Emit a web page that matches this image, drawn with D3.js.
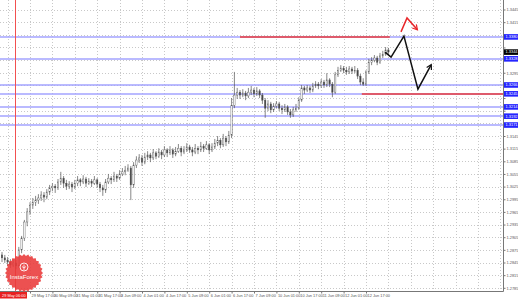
<!DOCTYPE html>
<html lang="en">
<head>
<meta charset="utf-8">
<style>
    body { margin: 0; background: #fff; }
    svg { display: block; font-family: "Liberation Sans", Arial, sans-serif; }
    .grid line { stroke: #c8c8c8; stroke-dasharray: 1,2; }
    .axis path, .axis line { stroke: #777; }
    .axis text { fill: #555; font-size: 3.9px; }
</style>
</head>
<body>
<svg id="chart" width="518" height="300"></svg>

<script src="https://d3js.org/d3.v7.min.js"></script>
<script>
    // EURUSD, 2-hour bars: [open, high, low, close]
    const candles = [
        [1.2863,1.2870,1.2846,1.2856],[1.2856,1.2863,1.2844,1.2851],[1.2851,1.2858,1.2837,1.2846],[1.2846,1.2853,1.2832,1.2839],
        [1.2839,1.2853,1.2834,1.2844],[1.2844,1.2851,1.2829,1.2837],[1.2837,1.2882,1.2832,1.2875],[1.2875,1.2908,1.2867,1.2903],
        [1.2903,1.2946,1.2896,1.2941],[1.2941,1.2974,1.2931,1.2965],[1.2965,1.2988,1.2958,1.2981],[1.2981,1.2998,1.2972,1.2988],
        [1.2988,1.3003,1.2979,1.2993],[1.2993,1.3007,1.2984,1.2998],[1.2998,1.3014,1.2991,1.3005],[1.3005,1.3012,1.2988,1.3000],
        [1.3000,1.3019,1.2995,1.3012],[1.3012,1.3029,1.3005,1.3022],[1.3022,1.3033,1.3014,1.3026],[1.3026,1.3031,1.3010,1.3022],
        [1.3022,1.3043,1.3017,1.3036],[1.3036,1.3060,1.3029,1.3045],[1.3045,1.3050,1.3022,1.3033],[1.3033,1.3041,1.3017,1.3026],
        [1.3026,1.3038,1.3019,1.3031],[1.3031,1.3036,1.3012,1.3024],[1.3024,1.3041,1.3019,1.3033],[1.3033,1.3050,1.3026,1.3041],
        [1.3041,1.3045,1.3026,1.3036],[1.3036,1.3052,1.3031,1.3043],[1.3043,1.3048,1.3024,1.3033],[1.3033,1.3045,1.3029,1.3038],
        [1.3038,1.3043,1.3024,1.3033],[1.3033,1.3050,1.3029,1.3041],[1.3041,1.3045,1.3022,1.3031],[1.3031,1.3036,1.3012,1.3022],
        [1.3022,1.3029,1.3003,1.3017],[1.3017,1.3043,1.3010,1.3036],[1.3036,1.3055,1.3031,1.3045],[1.3045,1.3050,1.3031,1.3041],
        [1.3041,1.3060,1.3036,1.3050],[1.3050,1.3055,1.3036,1.3045],[1.3045,1.3064,1.3041,1.3055],[1.3055,1.3069,1.3050,1.3060],
        [1.3060,1.3074,1.3052,1.3064],[1.3064,1.3078,1.3060,1.3069],[1.3069,1.3074,1.2993,1.3029],[1.3029,1.3083,1.3022,1.3076],
        [1.3076,1.3097,1.3069,1.3088],[1.3088,1.3102,1.3081,1.3093],[1.3093,1.3100,1.3074,1.3083],[1.3083,1.3105,1.3078,1.3095],
        [1.3095,1.3109,1.3088,1.3100],[1.3100,1.3105,1.3083,1.3093],[1.3093,1.3114,1.3088,1.3105],[1.3105,1.3109,1.3090,1.3097],
        [1.3097,1.3116,1.3093,1.3107],[1.3107,1.3112,1.3090,1.3100],[1.3100,1.3121,1.3095,1.3112],[1.3112,1.3116,1.3095,1.3105],
        [1.3105,1.3121,1.3100,1.3112],[1.3112,1.3116,1.3093,1.3102],[1.3102,1.3119,1.3097,1.3109],[1.3109,1.3126,1.3105,1.3116],
        [1.3116,1.3121,1.3097,1.3107],[1.3107,1.3121,1.3102,1.3112],[1.3112,1.3128,1.3107,1.3119],[1.3119,1.3124,1.3105,1.3112],
        [1.3112,1.3119,1.3097,1.3107],[1.3107,1.3126,1.3102,1.3116],[1.3116,1.3121,1.3102,1.3112],[1.3112,1.3131,1.3107,1.3121],
        [1.3121,1.3126,1.3107,1.3116],[1.3116,1.3133,1.3112,1.3124],[1.3124,1.3128,1.3102,1.3112],[1.3112,1.3128,1.3107,1.3119],
        [1.3119,1.3138,1.3114,1.3128],[1.3128,1.3145,1.3121,1.3135],[1.3135,1.3140,1.3116,1.3124],[1.3124,1.3150,1.3119,1.3140],
        [1.3140,1.3145,1.3121,1.3131],[1.3131,1.3157,1.3126,1.3147],[1.3147,1.3235,1.3140,1.3218],[1.3218,1.3297,1.3211,1.3242],
        [1.3242,1.3259,1.3233,1.3249],[1.3249,1.3254,1.3233,1.3242],[1.3242,1.3256,1.3237,1.3247],[1.3247,1.3252,1.3230,1.3240],
        [1.3240,1.3259,1.3235,1.3249],[1.3249,1.3264,1.3242,1.3254],[1.3254,1.3259,1.3237,1.3245],[1.3245,1.3261,1.3240,1.3252],
        [1.3252,1.3256,1.3235,1.3242],[1.3242,1.3247,1.3221,1.3230],[1.3230,1.3235,1.3188,1.3211],[1.3211,1.3230,1.3204,1.3221],
        [1.3221,1.3226,1.3199,1.3207],[1.3207,1.3223,1.3202,1.3216],[1.3216,1.3228,1.3211,1.3221],[1.3221,1.3226,1.3204,1.3211],
        [1.3211,1.3218,1.3197,1.3207],[1.3207,1.3221,1.3202,1.3214],[1.3214,1.3218,1.3195,1.3202],[1.3202,1.3209,1.3188,1.3195],
        [1.3195,1.3214,1.3190,1.3207],[1.3207,1.3221,1.3202,1.3211],[1.3211,1.3237,1.3207,1.3230],[1.3230,1.3266,1.3226,1.3259],
        [1.3259,1.3264,1.3245,1.3254],[1.3254,1.3266,1.3249,1.3259],[1.3259,1.3264,1.3247,1.3254],[1.3254,1.3271,1.3249,1.3264],
        [1.3264,1.3275,1.3259,1.3268],[1.3268,1.3273,1.3256,1.3264],[1.3264,1.3280,1.3259,1.3273],[1.3273,1.3278,1.3259,1.3266],
        [1.3266,1.3294,1.3261,1.3278],[1.3278,1.3282,1.3261,1.3268],[1.3268,1.3273,1.3237,1.3249],[1.3249,1.3297,1.3245,1.3290],
        [1.3290,1.3309,1.3285,1.3301],[1.3301,1.3313,1.3297,1.3306],[1.3306,1.3311,1.3294,1.3301],[1.3301,1.3309,1.3290,1.3297],
        [1.3297,1.3311,1.3292,1.3304],[1.3304,1.3309,1.3292,1.3299],[1.3299,1.3311,1.3294,1.3301],[1.3301,1.3306,1.3280,1.3287],
        [1.3287,1.3292,1.3266,1.3273],[1.3273,1.3282,1.3264,1.3268],[1.3268,1.3301,1.3264,1.3297],[1.3297,1.3328,1.3292,1.3320],
        [1.3320,1.3332,1.3313,1.3325],[1.3325,1.3337,1.3320,1.3330],[1.3330,1.3335,1.3313,1.3320],[1.3320,1.3342,1.3316,1.3335],
        [1.3335,1.3347,1.3330,1.3339],[1.3339,1.3356,1.3335,1.3349],[1.3349,1.3354,1.3337,1.3344]
    ];
    const barHours = 2;

    const priceTicks = ["1.3445","1.3415","1.3385","1.3355","1.3325","1.3295","1.3265","1.3235","1.3205","1.3175","1.3145","1.3115",
                        "1.3085","1.3055","1.3025","1.2995","1.2965","1.2935","1.2905","1.2875","1.2845","1.2815","1.2785"];

    // hours since chart start
    const timeTicks = [21, 37, 53, 69, 85, 101, 117, 133, 149, 165, 181, 197, 213, 229, 245, 261];
    const timeLabels = ["29 May 17:00","30 May 09:00","31 May 01:00","31 May 17:00","3 Jun 09:00","4 Jun 01:00","4 Jun 17:00",
                        "5 Jun 09:00","6 Jun 01:00","6 Jun 17:00","7 Jun 09:00","10 Jun 01:00","10 Jun 17:00","11 Jun 09:00",
                        "12 Jun 01:00","12 Jun 17:00"];
    const extraGridHours = [5, 277, 293, 309, 325, 341, 357];

    const blueLevels = [1.3380, 1.3328, 1.3266, 1.3245, 1.3214, 1.3192, 1.3171];
    // red levels: [fromHour, toHour, price]
    const redLevels = [[171, 278, 1.3380], [258, 360, 1.3245]];
    const markerHour = 10;
    const markerLabel = "29 May 06:00";

    // forecast arrows: [hour, price]
    const blackPath = [[274.6, 1.3344], [278.9, 1.3332], [288.1, 1.3382], [298.1, 1.3256], [307.4, 1.3313]];
    const redPath = [[286, 1.3392], [290.3, 1.3425], [297.4, 1.3398]];

    const W = 503, H = 291;
    const svg = d3.select('#chart');

    const x = d3.scaleLinear().domain([0, 360]).range([0.6, 504.6]);
    const y = d3.scaleLinear().domain([1.2785, 1.3445]).range([287.8, 9.5]);

    const last = candles[candles.length - 1][3];
    const tagPrices = blueLevels.concat([last]);

    svg.append("defs").selectAll("marker")
        .data([["arrBlack", "#111"], ["arrRed", "#e8262a"]])
        .enter().append("marker")
        .attr("id", d => d[0])
        .attr("viewBox", "0 0 10 10").attr("refX", 7).attr("refY", 5)
        .attr("markerWidth", 4.5).attr("markerHeight", 4.5)
        .attr("orient", "auto")
        .append("path")
        .attr("d", "M1,1 L8,5 L1,9")
        .attr("fill", "none").attr("stroke", d => d[1]).attr("stroke-width", 1.8);

    // grid
    const grid = svg.append("g").attr("class", "grid");
    grid.selectAll(".gy").data(priceTicks).enter().append("line")
        .attr("x1", 0).attr("x2", W)
        .attr("y1", d => Math.round(y(+d)) + 0.5).attr("y2", d => Math.round(y(+d)) + 0.5);
    grid.selectAll(".gx").data(timeTicks.concat(extraGridHours)).enter().append("line")
        .attr("y1", 0).attr("y2", H)
        .attr("x1", d => Math.round(x(d)) + 0.5).attr("x2", d => Math.round(x(d)) + 0.5);

    // horizontal levels
    svg.append("g").selectAll("line").data(blueLevels).enter().append("line")
        .attr("x1", 0).attr("x2", W)
        .attr("y1", d => Math.round(y(d))).attr("y2", d => Math.round(y(d)))
        .attr("stroke", "#a3a3ff").attr("stroke-width", 1.6);

    svg.append("g").selectAll("line").data(redLevels).enter().append("line")
        .attr("x1", d => x(d[0])).attr("x2", d => Math.min(W, x(d[1])))
        .attr("y1", d => Math.round(y(d[2]))).attr("y2", d => Math.round(y(d[2])))
        .attr("stroke", "#ea3b3b").attr("stroke-width", 1.5);

    // vertical marker
    svg.append("line")
        .attr("x1", Math.round(x(markerHour)) + 0.5).attr("x2", Math.round(x(markerHour)) + 0.5)
        .attr("y1", 0).attr("y2", H)
        .attr("stroke", "#f25050").attr("stroke-width", 1);

    // candles
    const cg = svg.append("g");
    const bars = cg.selectAll("g").data(candles).enter().append("g")
        .attr("transform", (d, i) => "translate(" + x(i * barHours + 1) + ",0)");
    bars.append("line")
        .attr("y1", d => y(d[1])).attr("y2", d => y(d[2]))
        .attr("stroke", "#555").attr("stroke-width", 0.7);
    bars.append("rect")
        .attr("x", -0.7).attr("width", 1.4)
        .attr("y", d => y(Math.max(d[0], d[3])))
        .attr("height", d => Math.max(0.6, Math.abs(y(d[0]) - y(d[3]))))
        .attr("fill", d => d[3] >= d[0] ? "#fff" : "#444")
        .attr("stroke", "#555").attr("stroke-width", 0.4);

    // forecast arrows
    const line = d3.line().x(d => x(d[0])).y(d => y(d[1]));
    svg.append("path").attr("d", line(blackPath))
        .attr("fill", "none").attr("stroke", "#111").attr("stroke-width", 1.5)
        .attr("marker-end", "url(#arrBlack)");
    svg.append("path").attr("d", line(redPath))
        .attr("fill", "none").attr("stroke", "#e8262a").attr("stroke-width", 1.5)
        .attr("marker-end", "url(#arrRed)");

    // frame
    svg.append("line").attr("x1", W + 0.5).attr("x2", W + 0.5).attr("y1", 0).attr("y2", H + 0.5).attr("stroke", "#777");
    svg.append("line").attr("x1", 0).attr("x2", W + 0.5).attr("y1", H + 0.5).attr("y2", H + 0.5).attr("stroke", "#777");

    // price axis (labels hidden where a level tag sits on top)
    svg.append("g").attr("class", "axis")
        .attr("transform", "translate(" + (W + 0.5) + ",0)")
        .call(d3.axisRight(y).tickValues(priceTicks.map(Number)).tickFormat(d3.format(".4f")).tickSize(2).tickPadding(1))
        .call(g => g.select(".domain").remove())
        .selectAll(".tick text")
        .filter(d => tagPrices.some(p => Math.abs(y(p) - y(d)) < 5.5))
        .remove();

    // time axis
    svg.append("g").attr("class", "axis")
        .attr("transform", "translate(0," + (H + 0.5) + ")")
        .call(d3.axisBottom(x).tickValues(timeTicks).tickFormat((d, i) => timeLabels[i]).tickSize(2).tickPadding(1))
        .call(g => g.select(".domain").remove())
        .selectAll("text").attr("text-anchor", "start").attr("dx", 1);

    // level labels on price axis
    const tagW = 14, tagH = 5.6;
    const tags = svg.append("g").selectAll("g").data(blueLevels).enter().append("g")
        .attr("transform", d => "translate(" + (W + 1) + "," + y(d) + ")");
    tags.append("rect").attr("x", 0).attr("y", -tagH / 2).attr("width", tagW).attr("height", tagH).attr("fill", "#2424ff");
    tags.append("text").attr("x", 1.6).attr("y", 1.4).attr("fill", "#fff").attr("font-size", 3.9)
        .text(d => d3.format(".4f")(d));

    const lastTag = svg.append("g").attr("transform", "translate(" + (W + 1) + "," + y(last) + ")");
    lastTag.append("rect").attr("x", 0).attr("y", -tagH / 2).attr("width", tagW).attr("height", tagH).attr("fill", "#000");
    lastTag.append("text").attr("x", 1.6).attr("y", 1.4).attr("fill", "#fff").attr("font-size", 3.9)
        .text(d3.format(".4f")(last));

    // marker time label
    svg.append("rect").attr("x", 0).attr("y", H + 1).attr("width", 27).attr("height", 6.5).attr("fill", "#e82020");
    svg.append("text").attr("x", 2).attr("y", H + 5.8).attr("fill", "#fff").attr("font-size", 3.9).text(markerLabel);

    // logo
    const logo = svg.append("g").attr("transform", "translate(24,273)").attr("opacity", 0.88);
    const spikes = 28;
    const star = d3.range(spikes * 2).map(k => {
        const a = k * Math.PI / spikes, r = k % 2 ? 17.2 : 19;
        return [Math.sin(a) * r, -Math.cos(a) * r];
    });
    logo.append("path").attr("d", d3.line().curve(d3.curveLinearClosed)(star)).attr("fill", "#ea3a3a");
    logo.append("circle").attr("cy", -6).attr("r", 4).attr("fill", "none").attr("stroke", "#fff").attr("stroke-width", 0.9);
    logo.append("path").attr("d", "M0,-8.5 L0,-3 M-2,-6.5 L0,-5 L2,-6.5").attr("stroke", "#fff").attr("stroke-width", 0.8).attr("fill", "none");
    logo.append("text").attr("y", 6).attr("text-anchor", "middle").attr("fill", "#fff")
        .attr("font-size", 6).text("InstaForex");
</script>
</body>
</html>
